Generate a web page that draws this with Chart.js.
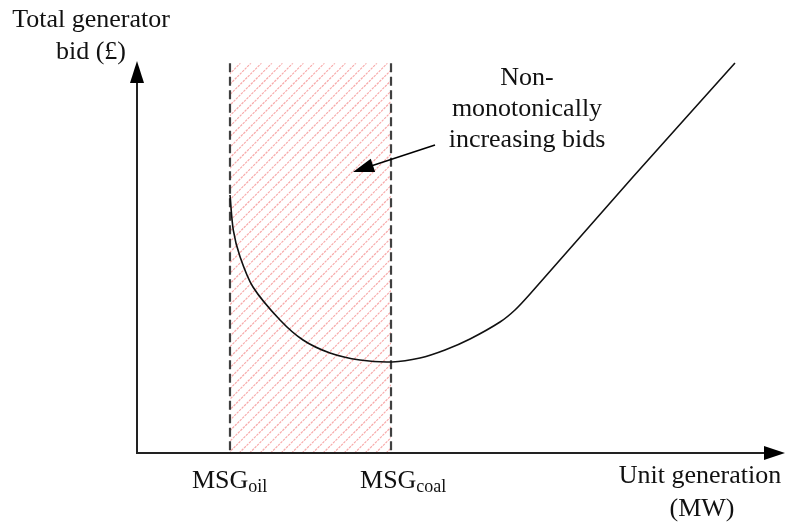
<!DOCTYPE html>
<html>
<head>
<meta charset="utf-8">
<script src="https://cdn.jsdelivr.net/npm/chart.js@4"></script>
<style>
  html, body { margin: 0; padding: 0; background: #fff; }
  #wrap { width: 787px; height: 525px; }
</style>
</head>
<body>
<div id="wrap"><canvas id="myChart" width="787" height="525"></canvas></div>
<script>
// curve of total bid vs unit generation (arbitrary units)
const genX = [14.35, 14.86, 15.90, 17.90, 22.07, 25.62, 29.78, 34.41, 39.35, 43.67, 47.53, 51.39, 56.02, 58.33, 60.65, 76.39, 92.28];
const bidY = [65.65, 56.74, 49.95, 42.24, 33.84, 28.75, 25.45, 23.66, 23.16, 24.17, 26.21, 29.01, 33.33, 36.39, 40.46, 69.97, 99.24];

// stable generation limits
const msgNames = ['MSG', 'MSG'];
const msgSubs = ['oil', 'coal'];
const msgX = [14.35, 39.2];
const regionTop = 99.2;

const yTitle = ['Total generator', 'bid (£)'];
const xTitle = ['Unit generation', '(MW)'];
const note = ['Non-', 'monotonically', 'increasing bids'];

const FONT = '"Liberation Serif", "Times New Roman", serif';

function arrowHead(ctx, tipX, tipY, dx, dy, len, half) {
    // dx, dy: unit direction of the arrow
    const bx = tipX - dx * len, by = tipY - dy * len;
    ctx.beginPath();
    ctx.moveTo(tipX, tipY);
    ctx.lineTo(bx - dy * half, by + dx * half);
    ctx.lineTo(bx + dy * half, by - dx * half);
    ctx.closePath();
    ctx.fill();
}

const drawing = {
    id: 'drawing',
    beforeDatasetsDraw(chart) {
        const ctx = chart.ctx;
        const xs = chart.scales.x, ys = chart.scales.y;
        const a = chart.chartArea;
        const x1 = xs.getPixelForValue(msgX[0]);
        const x2 = xs.getPixelForValue(msgX[1]);
        const top = ys.getPixelForValue(regionTop);
        const bottom = ys.getPixelForValue(0);

        // hatched region
        ctx.save();
        ctx.beginPath();
        ctx.rect(x1, top, x2 - x1, bottom - top);
        ctx.clip();
        ctx.strokeStyle = '#f7aaaa';
        ctx.lineWidth = 1.2;
        ctx.setLineDash([2.5, 1]);
        const h = bottom - top;
        for (let x = x1 - h; x < x2 + 12; x += 10.5) {
            ctx.beginPath();
            ctx.moveTo(x, bottom);
            ctx.lineTo(x + h, top);
            ctx.stroke();
        }
        ctx.restore();

        // dashed limits
        ctx.save();
        ctx.strokeStyle = '#404040';
        ctx.lineWidth = 2.2;
        ctx.setLineDash([9, 4.5]);
        [x1, x2].forEach(x => {
            ctx.beginPath();
            ctx.moveTo(x, top);
            ctx.lineTo(x, bottom);
            ctx.stroke();
        });
        ctx.restore();

        // axes with arrows
        ctx.save();
        ctx.strokeStyle = '#222';
        ctx.fillStyle = '#000';
        ctx.lineWidth = 2;
        ctx.beginPath();
        ctx.moveTo(a.left, a.top + 20);
        ctx.lineTo(a.left, bottom);
        ctx.lineTo(a.right - 18, bottom);
        ctx.stroke();
        arrowHead(ctx, a.left, a.top + 1, 0, -1, 22, 7);
        arrowHead(ctx, a.right, bottom, 1, 0, 21, 7);
        ctx.restore();
    },
    afterDatasetsDraw(chart) {
        const ctx = chart.ctx;
        const xs = chart.scales.x;
        ctx.save();
        ctx.fillStyle = '#111';
        ctx.font = '26px ' + FONT;
        ctx.textAlign = 'center';
        ctx.textBaseline = 'alphabetic';

        // y title
        ctx.fillText(yTitle[0], 91, 27);
        ctx.fillText(yTitle[1], 91, 59);

        // x title
        ctx.fillText(xTitle[0], 700, 483);
        ctx.fillText(xTitle[1], 702, 516);

        // annotation text
        note.forEach((t, i) => ctx.fillText(t, 527, 85 + i * 31));

        // MSG labels
        ctx.textAlign = 'left';
        const offs = [-38, -31];
        msgX.forEach((v, i) => {
            const px = xs.getPixelForValue(v) + offs[i];
            ctx.font = '26px ' + FONT;
            ctx.fillText(msgNames[i], px, 488);
            const w = ctx.measureText(msgNames[i]).width;
            ctx.font = '18px ' + FONT;
            ctx.fillText(msgSubs[i], px + w, 492);
        });

        // annotation arrow
        ctx.strokeStyle = '#000';
        ctx.fillStyle = '#000';
        ctx.lineWidth = 1.5;
        const sx = 435, sy = 145, tx = 353, ty = 172;
        const len = Math.hypot(tx - sx, ty - sy);
        const dx = (tx - sx) / len, dy = (ty - sy) / len;
        ctx.beginPath();
        ctx.moveTo(sx, sy);
        ctx.lineTo(tx - dx * 15, ty - dy * 15);
        ctx.stroke();
        arrowHead(ctx, tx, ty, dx, dy, 21, 7);
        ctx.restore();
    }
};

const ctx1 = document.getElementById('myChart').getContext('2d');
new Chart(ctx1, {
    type: 'line',
    data: {
        datasets: [{
            label: 'Total generator bid',
            data: genX.map((x, i) => ({ x: x, y: bidY[i] })),
            borderColor: '#111',
            borderWidth: 1.6,
            pointRadius: 0,
            fill: false,
            tension: 0.3
        }]
    },
    options: {
        responsive: false,
        animation: false,
        layout: { padding: { left: 137, top: 60, right: 2, bottom: 72 } },
        plugins: {
            legend: { display: false },
            tooltip: { enabled: false }
        },
        scales: {
            x: { type: 'linear', min: 0, max: 100, display: false },
            y: { type: 'linear', min: 0, max: 100, display: false }
        }
    },
    plugins: [drawing]
});
</script>
</body>
</html>
